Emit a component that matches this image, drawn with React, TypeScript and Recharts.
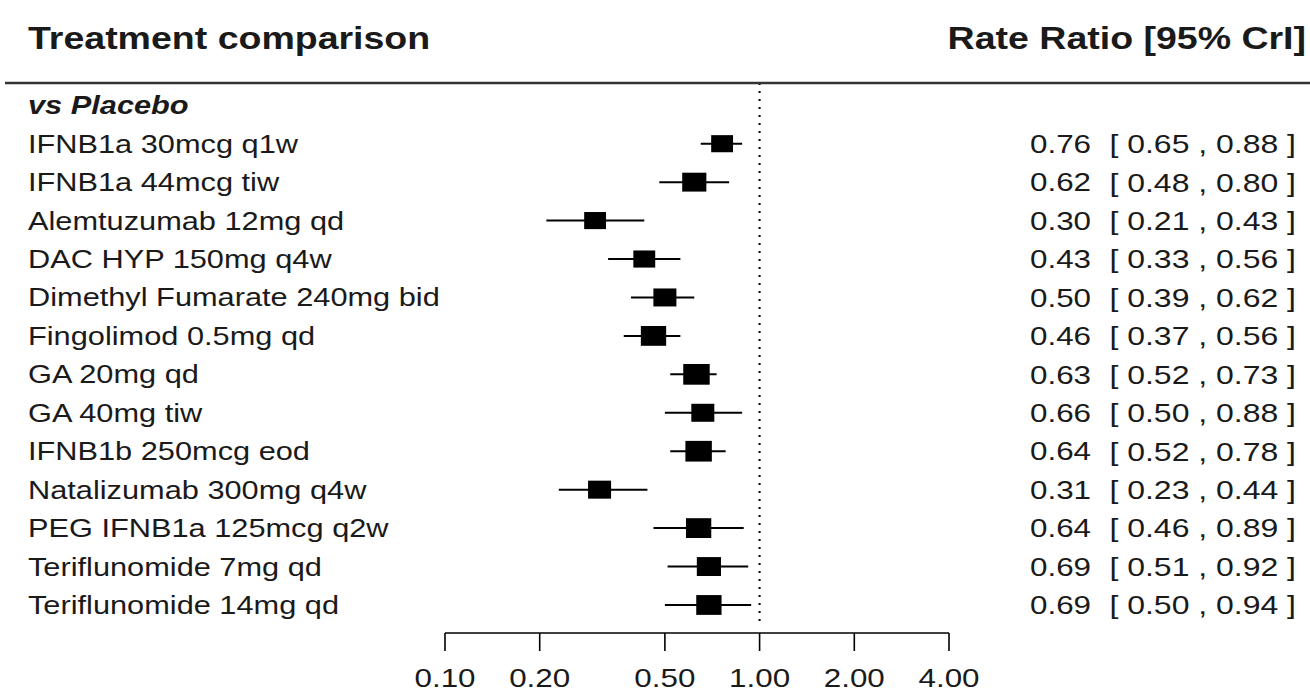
import { ScatterChart, Scatter, XAxis, YAxis, ErrorBar, ReferenceLine } from "recharts";

const treatments = [
  "IFNB1a 30mcg q1w",
  "IFNB1a 44mcg tiw",
  "Alemtuzumab 12mg qd",
  "DAC HYP 150mg q4w",
  "Dimethyl Fumarate 240mg bid",
  "Fingolimod 0.5mg qd",
  "GA 20mg qd",
  "GA 40mg tiw",
  "IFNB1b 250mcg eod",
  "Natalizumab 300mg q4w",
  "PEG IFNB1a 125mcg q2w",
  "Teriflunomide 7mg qd",
  "Teriflunomide 14mg qd",
];
const rateRatio = [0.76, 0.62, 0.3, 0.43, 0.5, 0.46, 0.63, 0.66, 0.64, 0.31, 0.64, 0.69, 0.69];
const lower = [0.65, 0.48, 0.21, 0.33, 0.39, 0.37, 0.52, 0.5, 0.52, 0.23, 0.46, 0.51, 0.5];
const upper = [0.88, 0.8, 0.43, 0.56, 0.62, 0.56, 0.73, 0.88, 0.78, 0.44, 0.89, 0.92, 0.94];
// relative box weight (precision)
const weight = [19, 21, 19, 19, 20, 22, 23, 20, 23, 20, 22, 21, 22];
const groupLabel = "vs Placebo";
const xTicks = [0.1, 0.2, 0.5, 1, 2, 4];

const FONT = "'Liberation Sans', Arial, sans-serif";
const SX = 1.23; // the reference text is a bit wide
const W = 1310;
const H = 693;
const ROW0 = 143.7;
const STEP = 38.44;
const PLOT_TOP = 83;
const PLOT_BOTTOM = 633;
const yMin = (PLOT_TOP - ROW0) / STEP;
const yMax = (PLOT_BOTTOM - ROW0) / STEP;
const dotEnd = (627 - ROW0) / STEP;

const rows = treatments.map((name, i) => ({
  idx: i,
  name,
  rr: rateRatio[i],
  err: [rateRatio[i] - lower[i], upper[i] - rateRatio[i]],
  w: weight[i],
}));

function Txt({ x, y, anchor = "start", size = 25, bold = false, italic = false, children }: any) {
  return (
    <text
      transform={`translate(${x},${y}) scale(${SX},1)`}
      textAnchor={anchor}
      dy="0.36em"
      fontSize={size}
      fontFamily={FONT}
      fontWeight={bold ? 700 : 400}
      fontStyle={italic ? "italic" : "normal"}
      fill="#1a1a1a"
    >
      {children}
    </text>
  );
}

function LabelTick({ y, payload }: any) {
  const i = payload.value;
  if (i === -1) return <Txt x={28} y={y} bold italic>{groupLabel}</Txt>;
  return <Txt x={28} y={y}>{treatments[i]}</Txt>;
}

function CiTick({ y, payload }: any) {
  const i = payload.value;
  return (
    <g>
      <Txt x={1030} y={y} size={25.5}>{rateRatio[i].toFixed(2)}</Txt>
      <Txt x={1296} y={y} size={26} anchor="end">
        {`[ ${lower[i].toFixed(2)} , ${upper[i].toFixed(2)} ]`}
      </Txt>
    </g>
  );
}

function XTick({ x, y, payload }: any) {
  return <Txt x={x} y={y + 25} anchor="middle" size={25.5}>{payload.value.toFixed(2)}</Txt>;
}

function Box({ cx, cy, payload }: any) {
  const bw = payload.w * 1.15;
  const bh = payload.w * 0.9;
  return <rect x={cx - bw / 2} y={cy - bh / 2} width={bw} height={bh} fill="#000" />;
}

export default function App() {
  return (
    <div style={{ position: "absolute", left: 0, top: 0, width: W, height: H, background: "#fff" }}>
      <ScatterChart width={W} height={H} margin={{ top: PLOT_TOP, right: 0, bottom: 0, left: 0 }}>
        <XAxis
          type="number"
          dataKey="rr"
          scale="log"
          domain={[0.1, 4]}
          ticks={xTicks}
          allowDataOverflow
          height={H - PLOT_BOTTOM}
          tickSize={18}
          tick={<XTick />}
          stroke="#000"
          axisLine={{ stroke: "#000", strokeWidth: 1.6 }}
          tickLine={{ stroke: "#000", strokeWidth: 1.6 }}
        />
        <YAxis
          yAxisId="left"
          type="number"
          dataKey="idx"
          domain={[yMin, yMax]}
          reversed
          allowDataOverflow
          ticks={[-1, ...treatments.map((_, i) => i)]}
          interval={0}
          width={445}
          axisLine={false}
          tickLine={false}
          tick={<LabelTick />}
        />
        <YAxis
          yAxisId="right"
          orientation="right"
          type="number"
          domain={[yMin, yMax]}
          reversed
          allowDataOverflow
          ticks={treatments.map((_, i) => i)}
          interval={0}
          width={W - 949}
          axisLine={false}
          tickLine={false}
          tick={<CiTick />}
        />
        <ReferenceLine
          yAxisId="left"
          segment={[
            { x: 1, y: yMin },
            { x: 1, y: dotEnd },
          ]}
          stroke="#000"
          strokeWidth={2}
          strokeDasharray="2 6"
        />
        <Scatter yAxisId="left" data={rows} shape={<Box />} isAnimationActive={false}>
          <ErrorBar dataKey="err" direction="x" width={0} stroke="#000" strokeWidth={2} />
        </Scatter>
        <Scatter yAxisId="right" data={[]} isAnimationActive={false} />
      </ScatterChart>
      <svg width={W} height={PLOT_TOP + 4} style={{ position: "absolute", left: 0, top: 0 }}>
        <Txt x={28} y={38} size={30.5} bold>Treatment comparison</Txt>
        <Txt x={1306} y={38} size={30.5} bold anchor="end">Rate Ratio [95% CrI]</Txt>
        <line x1={5} x2={W} y1={PLOT_TOP} y2={PLOT_TOP} stroke="#333" strokeWidth={2.5} />
      </svg>
    </div>
  );
}
